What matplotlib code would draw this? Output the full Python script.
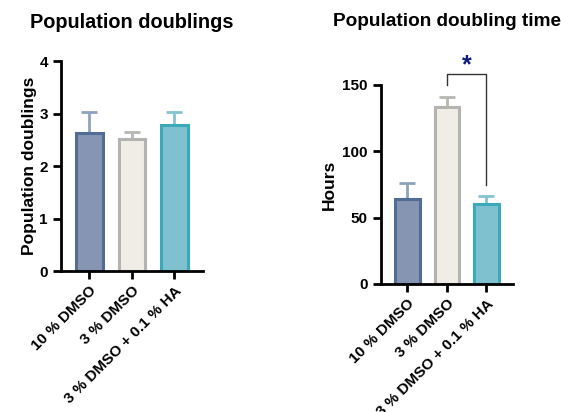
import matplotlib
matplotlib.use("Agg")
import matplotlib.pyplot as plt

plt.rcParams['font.family'] = ['Liberation Sans', 'DejaVu Sans']
plt.rcParams['font.weight'] = 'bold'
plt.rcParams['axes.labelweight'] = 'bold'

# datos
grupos = ["10 % DMSO", "3 % DMSO", "3 % DMSO + 0.1 % HA"]
doublings = [2.63, 2.51, 2.79]
doublings_err = [0.40, 0.13, 0.24]
horas = [64.4, 133.6, 60.2]
horas_err = [11.9, 7.6, 6.2]

fill = ["#8595b2", "#f0ece6", "#80c1cf"]
edge = ["#526d94", "#b3b3af", "#3aa9b9"]
errc = ["#8ea3bc", "#b8b8b2", "#86c3d0"]

fig = plt.figure(figsize=(5.61, 4.12), dpi=100)


def panel(ax, vals, errs, ylim, yticks):
    x = range(len(vals))
    for i in x:
        ax.bar(i, vals[i], width=0.62, color=fill[i], edgecolor=edge[i], linewidth=2.2, zorder=2)
        ax.errorbar(i, vals[i], yerr=[[0], [errs[i]]], color=errc[i], capsize=6,
                    elinewidth=2, capthick=2, zorder=1)
    ax.set_xlim(-0.67, 2.67)
    ax.set_ylim(*ylim)
    ax.set_yticks(yticks)
    ax.set_xticks(list(x))
    ax.set_xticklabels(grupos, rotation=45, ha='right', rotation_mode='anchor',
                       fontsize=11.5, fontweight='bold')
    for s in ['top', 'right']:
        ax.spines[s].set_visible(False)
    for s in ['left', 'bottom']:
        ax.spines[s].set_linewidth(2)
    ax.tick_params(axis='both', width=2, length=6, labelsize=11)
    ax.tick_params(axis='x', pad=3)


ax1 = fig.add_axes([0.1087, 0.3422, 0.2531, 0.5097])
panel(ax1, doublings, doublings_err, (0, 4), [0, 1, 2, 3, 4])
ax1.set_ylabel("Population doublings", fontsize=12.5, fontweight='bold', labelpad=2)

ax2 = fig.add_axes([0.6791, 0.3107, 0.2353, 0.4830])
panel(ax2, horas, horas_err, (0, 150), [0, 50, 100, 150])
ax2.set_ylabel("Hours", fontsize=12.5, fontweight='bold', labelpad=4)

# significancia
ax2.plot([1, 1, 2, 2], [150, 158, 158, 74.5], color="#333333", lw=1, clip_on=False)
ax2.text(1.5, 165, "*", ha='center', va='center', fontsize=18, fontweight='bold',
         color="#0d1a7a", clip_on=False)

fig.text(132 / 561, 1 - 23 / 412, "Population doublings", ha='center', va='center',
         fontsize=14.3, fontweight='bold')
fig.text(447 / 561, 1 - 22 / 412, "Population doubling time", ha='center', va='center',
         fontsize=13.7, fontweight='bold')

fig.savefig("out.png", dpi=100)
